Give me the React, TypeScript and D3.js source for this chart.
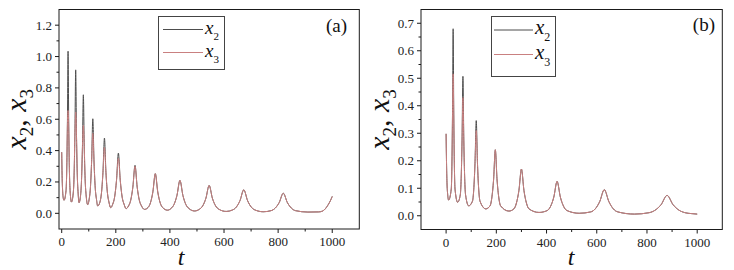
import React from 'react';
import * as d3 from 'd3';

// ---------- Panel (a) data ----------
const tA = [0, 1.5, 3.5, 5.5, 8.5,
  16, 18.5, 21, 23.5, 26, 28.5, 31, 36,
  42.7, 45.7, 48.7, 51.7, 54.7, 57.7, 60.7, 64,
  69.5, 73, 76.5, 80, 83.5, 87, 90.5, 96,
  101.5, 106, 110.5, 115, 119.5, 124, 128.5, 133,
  141.5, 147, 152.5, 158, 163.5, 169, 174.5, 181,
  188.5, 195.5, 202.5, 209.5, 216.5, 223.5, 230.5, 238,
  247, 255, 263, 271, 279, 287, 295, 306,
  319, 328, 337, 346, 355, 364, 373, 391,
  404, 415, 426, 437, 448, 459, 470, 491,
  509, 521, 533, 545, 557, 569, 581, 608,
  631, 645, 659, 673, 687, 701, 715, 745,
  774, 789, 804, 819, 834, 849, 864, 910,
  950, 965, 975, 985, 993, 1000];
const x2A = [0.39, 0.24, 0.14, 0.10, 0.083,
  0.145, 0.269, 0.556, 1.034, 0.556, 0.269, 0.145, 0.072,
  0.129, 0.239, 0.492, 0.915, 0.492, 0.239, 0.129, 0.068,
  0.111, 0.201, 0.409, 0.756, 0.409, 0.201, 0.111, 0.055,
  0.090, 0.161, 0.327, 0.603, 0.327, 0.161, 0.090, 0.047,
  0.073, 0.130, 0.261, 0.480, 0.261, 0.130, 0.073, 0.036,
  0.058, 0.103, 0.209, 0.384, 0.209, 0.103, 0.058, 0.030,
  0.047, 0.083, 0.167, 0.306, 0.167, 0.083, 0.047, 0.025,
  0.037, 0.067, 0.137, 0.253, 0.137, 0.067, 0.037, 0.020,
  0.031, 0.056, 0.114, 0.210, 0.114, 0.056, 0.031, 0.015,
  0.026, 0.047, 0.096, 0.178, 0.096, 0.047, 0.026, 0.012,
  0.021, 0.039, 0.081, 0.150, 0.081, 0.039, 0.021, 0.010,
  0.017, 0.033, 0.069, 0.128, 0.069, 0.033, 0.017, 0.008,
  0.009, 0.015, 0.030, 0.055, 0.080, 0.108];
const x3A = [0.39, 0.24, 0.14, 0.10, 0.083,
  0.145, 0.269, 0.556, 0.656, 0.556, 0.269, 0.145, 0.072,
  0.129, 0.239, 0.492, 0.646, 0.492, 0.239, 0.129, 0.068,
  0.111, 0.201, 0.409, 0.560, 0.409, 0.201, 0.111, 0.055,
  0.090, 0.161, 0.327, 0.510, 0.327, 0.161, 0.090, 0.047,
  0.073, 0.130, 0.261, 0.420, 0.261, 0.130, 0.073, 0.036,
  0.058, 0.103, 0.209, 0.350, 0.209, 0.103, 0.058, 0.030,
  0.047, 0.083, 0.167, 0.300, 0.167, 0.083, 0.047, 0.025,
  0.037, 0.067, 0.137, 0.253, 0.137, 0.067, 0.037, 0.020,
  0.031, 0.056, 0.114, 0.210, 0.114, 0.056, 0.031, 0.015,
  0.026, 0.047, 0.096, 0.178, 0.096, 0.047, 0.026, 0.012,
  0.021, 0.039, 0.081, 0.150, 0.081, 0.039, 0.021, 0.010,
  0.017, 0.033, 0.069, 0.128, 0.069, 0.033, 0.017, 0.008,
  0.009, 0.015, 0.030, 0.055, 0.080, 0.108];

// ---------- Panel (b) data ----------
const tB = [0, 1.5, 3.5, 6, 10,
  20.5, 23, 25.5, 28, 30.5, 33, 35.5, 46,
  56.5, 60, 63.5, 67, 70.5, 74, 77.5, 90,
  105, 110, 115, 120, 125, 130, 135, 158,
  175, 182, 189, 196, 203, 210, 217, 250,
  270, 280, 290, 300, 310, 320, 330, 370,
  403, 416, 429, 442, 455, 468, 481, 530,
  576, 594, 612, 630, 648, 666, 684, 750,
  808, 832, 856, 880, 904, 928, 952, 975, 1000];
const x2B = [0.298, 0.20, 0.12, 0.08, 0.057,
  0.097, 0.178, 0.367, 0.680, 0.367, 0.178, 0.097, 0.049,
  0.076, 0.136, 0.275, 0.507, 0.275, 0.136, 0.076, 0.036,
  0.053, 0.094, 0.189, 0.346, 0.189, 0.094, 0.053, 0.025,
  0.036, 0.065, 0.130, 0.240, 0.130, 0.065, 0.036, 0.017,
  0.025, 0.046, 0.092, 0.170, 0.092, 0.046, 0.025, 0.012,
  0.019, 0.034, 0.068, 0.125, 0.068, 0.034, 0.019, 0.009,
  0.014, 0.025, 0.052, 0.095, 0.052, 0.025, 0.014, 0.006,
  0.011, 0.020, 0.040, 0.074, 0.040, 0.020, 0.011, 0.008, 0.006];
const x3B = [0.298, 0.20, 0.12, 0.08, 0.057,
  0.097, 0.178, 0.367, 0.516, 0.367, 0.178, 0.097, 0.049,
  0.076, 0.136, 0.275, 0.430, 0.275, 0.136, 0.076, 0.036,
  0.053, 0.094, 0.189, 0.310, 0.189, 0.094, 0.053, 0.025,
  0.036, 0.065, 0.130, 0.240, 0.130, 0.065, 0.036, 0.017,
  0.025, 0.046, 0.092, 0.170, 0.092, 0.046, 0.025, 0.012,
  0.019, 0.034, 0.068, 0.125, 0.068, 0.034, 0.019, 0.009,
  0.014, 0.025, 0.052, 0.095, 0.052, 0.025, 0.014, 0.006,
  0.011, 0.020, 0.040, 0.074, 0.040, 0.020, 0.011, 0.008, 0.006];

// ---------- Ticks ----------
const xTicks = [0, 200, 400, 600, 800, 1000];
const xMinor = [100, 300, 500, 700, 900];
const yTicksA = [0, 0.2, 0.4, 0.6, 0.8, 1.0, 1.2];
const yMinorA = [0.1, 0.3, 0.5, 0.7, 0.9, 1.1];
const yTicksB = [0, 0.1, 0.2, 0.3, 0.4, 0.5, 0.6, 0.7];
const yMinorB = [0.05, 0.15, 0.25, 0.35, 0.45, 0.55, 0.65];

const SERIF = "'Liberation Serif', 'Times New Roman', Times, serif";
const C2 = '#4d4d4d';
const C3 = '#c98080';
const AX = '#1a1a1a';

type PanelProps = {
  xr: [number, number]; yr: [number, number];
  xDom: [number, number]; yDom: [number, number];
  t: number[]; s2: number[]; s3: number[];
  yTicks: number[]; yMinor: number[];
  tX: number; yLabX: number;
  leg: { x0: number; x1: number; y0: number; y1: number; l0: number; l1: number; r1: number; r2: number; tx: number; fs: number; sfs: number };
  tag: string; tagX: number; tagY: number;
};

function Panel(p: PanelProps) {
  const x = d3.scaleLinear().domain(p.xDom).range(p.xr);
  const y = d3.scaleLinear().domain(p.yDom).range(p.yr);
  const pts2 = p.t.map((tt, i) => [tt, p.s2[i]] as [number, number]);
  const pts3 = p.t.map((tt, i) => [tt, p.s3[i]] as [number, number]);
  const line = d3.line<[number, number]>().x(d => x(d[0])).y(d => y(d[1])).curve(d3.curveMonotoneX);
  const [L, R] = p.xr;
  const [B, T] = p.yr;
  const yMid = (B + T) / 2;
  const lg = p.leg;
  const f = { fontFamily: SERIF };
  return (
    <g>
      <path d={line(pts2) || ''} fill="none" stroke={C2} strokeWidth={1} />
      <path d={line(pts3) || ''} fill="none" stroke={C3} strokeWidth={1} />
      <rect x={L} y={T} width={R - L} height={B - T} fill="none" stroke={AX} strokeWidth={1} />
      {xTicks.map(v => (
        <g key={'xt' + v}>
          <line x1={x(v)} x2={x(v)} y1={B} y2={B + 4} stroke={AX} />
          <text x={x(v)} y={B + 17} textAnchor="middle" style={f} fontSize={13} fill="#222">{v}</text>
        </g>
      ))}
      {xMinor.map(v => (
        <line key={'xm' + v} x1={x(v)} x2={x(v)} y1={B} y2={B + 2.5} stroke={AX} />
      ))}
      {p.yTicks.map(v => (
        <g key={'yt' + v}>
          <line x1={L - 4} x2={L} y1={y(v)} y2={y(v)} stroke={AX} />
          <text x={L - 7} y={y(v) + 4.5} textAnchor="end" style={f} fontSize={13} fill="#222">{v.toFixed(1)}</text>
        </g>
      ))}
      {p.yMinor.map(v => (
        <line key={'ym' + v} x1={L - 2.5} x2={L} y1={y(v)} y2={y(v)} stroke={AX} />
      ))}
      <text x={p.tX} y={265} textAnchor="middle" style={f} fontStyle="italic" fontSize={24} fill="#111">t</text>
      <text transform={`translate(${p.yLabX},${yMid}) rotate(-90)`} textAnchor="middle" style={f} fontSize={30} fill="#111">
        <tspan fontStyle="italic">x</tspan>
        <tspan fontSize={19} dy={7}>2</tspan>
        <tspan dy={-7}>, </tspan>
        <tspan fontStyle="italic">x</tspan>
        <tspan fontSize={19} dy={7}>3</tspan>
      </text>
      <rect x={lg.x0} y={lg.y0} width={lg.x1 - lg.x0} height={lg.y1 - lg.y0} fill="white" stroke="#444" strokeWidth={1} />
      <line x1={lg.l0} x2={lg.l1} y1={lg.r1} y2={lg.r1} stroke={C2} strokeWidth={1} />
      <line x1={lg.l0} x2={lg.l1} y1={lg.r2} y2={lg.r2} stroke={C3} strokeWidth={1} />
      <text x={lg.tx} y={lg.r1 + 4} style={f} fontSize={lg.fs} fill="#111">
        <tspan fontStyle="italic">x</tspan>
        <tspan fontSize={lg.sfs} dy={lg.fs * 0.35}>2</tspan>
      </text>
      <text x={lg.tx} y={lg.r2 + 4} style={f} fontSize={lg.fs} fill="#111">
        <tspan fontStyle="italic">x</tspan>
        <tspan fontSize={lg.sfs} dy={lg.fs * 0.35}>3</tspan>
      </text>
      <text x={p.tagX} y={p.tagY} textAnchor="end" style={f} fontSize={19} fill="#111">{p.tag}</text>
    </g>
  );
}

export default function App() {
  return (
    <svg width={734} height={270} viewBox="0 0 734 270"
      style={{ position: 'absolute', left: 0, top: 0, display: 'block', background: 'white' }}>
      <rect x={0} y={0} width={734} height={270} fill="white" />
      <Panel xr={[59, 359.3]} yr={[229, 9.5]} xDom={[-10, 1100]} yDom={[-0.1, 1.3]}
        t={tA} s2={x2A} s3={x3A} yTicks={yTicksA} yMinor={yMinorA}
        tX={181} yLabX={26}
        leg={{ x0: 158.5, x1: 224.5, y0: 16.5, y1: 69.5, l0: 163, l1: 203, r1: 29.5, r2: 52.5, tx: 205, fs: 19, sfs: 11 }}
        tag="(a)" tagX={347} tagY={32} />
      <Panel xr={[421, 722.3]} yr={[229.5, 9.5]} xDom={[-100, 1100]} yDom={[-0.05, 0.75]}
        t={tB} s2={x2B} s3={x3B} yTicks={yTicksB} yMinor={yMinorB}
        tX={571} yLabX={389}
        leg={{ x0: 491.5, x1: 555.5, y0: 16.5, y1: 76.5, l0: 494, l1: 533, r1: 30, r2: 54.5, tx: 535, fs: 21, sfs: 12 }}
        tag="(b)" tagX={715} tagY={31} />
    </svg>
  );
}
